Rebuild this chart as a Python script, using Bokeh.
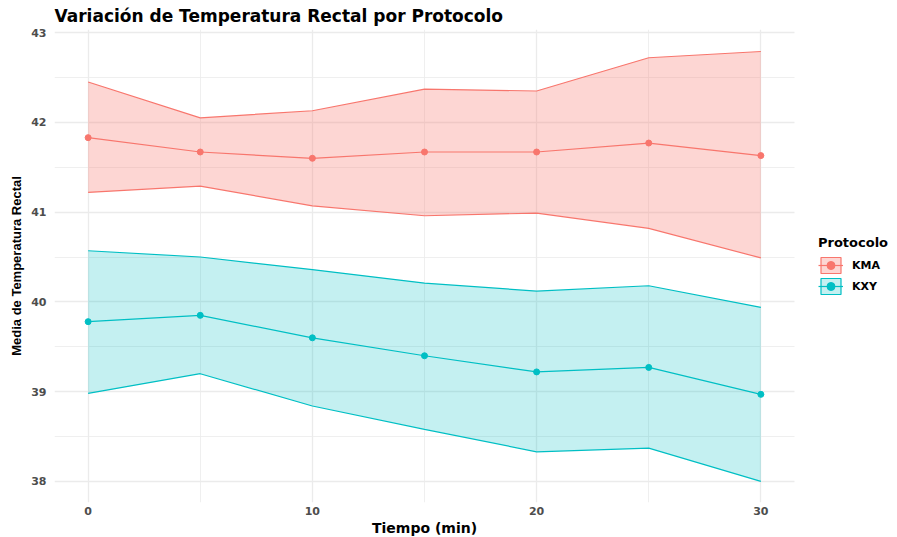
from bokeh.plotting import figure
from bokeh.models import ColumnDataSource, FixedTicker, Legend, LegendItem, Range1d, Title
from bokeh.embed import file_html
from bokeh.resources import INLINE

nan = float("nan")

# Tiempo de medición (min)
tiempo = [0, 5, 10, 15, 20, 25, 30]

# Protocolo KMA: media e intervalo
kma_media = [41.83, 41.67, 41.60, 41.67, 41.67, 41.77, 41.63]
kma_sup = [42.45, 42.05, 42.13, 42.37, 42.35, 42.72, 42.79]
kma_inf = [41.22, 41.29, 41.07, 40.96, 40.99, 40.82, 40.49]

# Protocolo KXY: media e intervalo
kxy_media = [39.78, 39.85, 39.60, 39.40, 39.22, 39.27, 38.97]
kxy_sup = [40.57, 40.50, 40.36, 40.21, 40.12, 40.18, 39.94]
kxy_inf = [38.98, 39.20, 38.84, 38.58, 38.33, 38.37, 38.00]

protocolos = ["KMA", "KXY"]
colores = {"KMA": "#F8766D", "KXY": "#00BFC4"}
opacidad = {"KMA": 0.3, "KXY": 0.23}
series = {
    "KMA": (kma_media, kma_sup, kma_inf),
    "KXY": (kxy_media, kxy_sup, kxy_inf),
}

x_ticks = [0, 10, 20, 30]
x_minor = [5, 15, 25]
y_ticks = [38, 39, 40, 41, 42, 43]
y_minor = [38.5, 39.5, 40.5, 41.5, 42.5]

# panel de datos: x en [-1.5, 31.5]; el marco se alarga a la derecha para alojar la leyenda
x_ini, x_fin = -1.5, 31.5
ancho, alto = 897, 537
borde_izq, borde_der, borde_sup, borde_inf = 54, 0, 28, 35
ancho_panel = 740
px_por_unidad = ancho_panel / (x_fin - x_ini)
ancho_marco = ancho - borde_izq - borde_der
x_max_marco = x_ini + ancho_marco / px_por_unidad

p = figure(
    width=ancho, height=alto,
    x_range=Range1d(x_ini, x_max_marco), y_range=Range1d(37.765, 43.035),
    output_backend="svg", toolbar_location=None,
    min_border_left=borde_izq, min_border_right=borde_der,
    min_border_top=borde_sup, min_border_bottom=borde_inf,
)
p.outline_line_color = None
p.background_fill_color = "white"
p.border_fill_color = "white"

# Título
p.title.text = "Variación de Temperatura Rectal por Protocolo"
p.title.text_font = "DejaVu Sans"
p.title.text_font_size = "17px"
p.title.text_font_style = "bold"
p.title.text_color = "black"
p.title.align = "left"
p.title.offset = 0
p.title.standoff = 7

# Ejes
p.xaxis.ticker = FixedTicker(ticks=x_ticks, minor_ticks=x_minor)
p.yaxis.ticker = FixedTicker(ticks=y_ticks, minor_ticks=y_minor)
p.xaxis.bounds = (x_ini, x_fin)
for ax in (p.xaxis[0], p.yaxis[0]):
    ax.axis_line_color = None
    ax.major_tick_line_color = None
    ax.minor_tick_line_color = None
    ax.major_tick_out = 0
    ax.major_tick_in = 0
    ax.minor_tick_out = 0
    ax.minor_tick_in = 0
    ax.major_label_text_font = "DejaVu Sans"
    ax.major_label_text_font_size = "11px"
    ax.major_label_text_font_style = "bold"
    ax.major_label_text_color = "#4D4D4D"
    ax.axis_label_text_color = "black"
    ax.axis_label_text_font_style = "bold"

p.xaxis.major_label_standoff = 4

# título del eje x, centrado bajo el panel de datos
titulo_x = "Tiempo (min)"
ancho_titulo_x = 105  # ancho aproximado del texto a 14px
p.add_layout(Title(
    text=titulo_x, align="left",
    offset=ancho_panel / 2 - ancho_titulo_x / 2,
    text_font="DejaVu Sans", text_font_size="14px",
    text_font_style="bold", text_color="black", standoff=1,
), "below")

p.yaxis.axis_label = "Media de Temperatura Rectal"
p.yaxis.axis_label_text_font = "Liberation Sans"
p.yaxis.axis_label_text_font_size = "13px"
p.yaxis.major_label_standoff = 8
p.yaxis.axis_label_standoff = 4

# Rejilla (las horizontales solo cubren el panel de datos)
for g in (p.xgrid[0], p.ygrid[0]):
    g.grid_line_color = "#EBEBEB"
    g.grid_line_width = 1.3
    g.minor_grid_line_color = "#EBEBEB"
    g.minor_grid_line_width = 0.8
p.ygrid[0].cross_bounds = (x_ini, x_fin)

items = []
for prot in protocolos:
    media, sup, inf = series[prot]
    c = colores[prot]
    a = opacidad[prot]
    src = ColumnDataSource(dict(x=tiempo, media=media, sup=sup, inf=inf))
    p.varea(x="x", y1="inf", y2="sup", source=src, fill_color=c, fill_alpha=a)
    p.line(x="x", y="sup", source=src, line_color=c, line_width=1.2)
    p.line(x="x", y="inf", source=src, line_color=c, line_width=1.2)
    ln = p.line(x="x", y="media", source=src, line_color=c, line_width=1.2)
    pts = p.scatter(x="x", y="media", source=src, size=6, fill_color=c, line_color=c)
    # caja de la leyenda (relleno con borde); no dibuja nada en el panel
    caja = p.quad(left=[nan], right=[nan], top=[nan], bottom=[nan],
                  fill_color=c, fill_alpha=a, line_color=c, line_width=1.2)
    items.append(LegendItem(label=prot, renderers=[caja, ln, pts]))

legend = Legend(
    items=items, location=(ancho_panel + 24, 206),
    title="Protocolo",
    title_text_font="DejaVu Sans", title_text_font_size="13px",
    title_text_font_style="bold", title_text_color="black",
    title_standoff=5,
    label_text_font="DejaVu Sans", label_text_font_size="11px",
    label_text_font_style="bold", label_text_color="black",
    glyph_width=25, glyph_height=20, spacing=1, label_standoff=9,
    padding=0, margin=0,
    border_line_color=None, background_fill_alpha=0,
)
p.add_layout(legend)

open("out.html", "w").write(file_html(p, INLINE))
